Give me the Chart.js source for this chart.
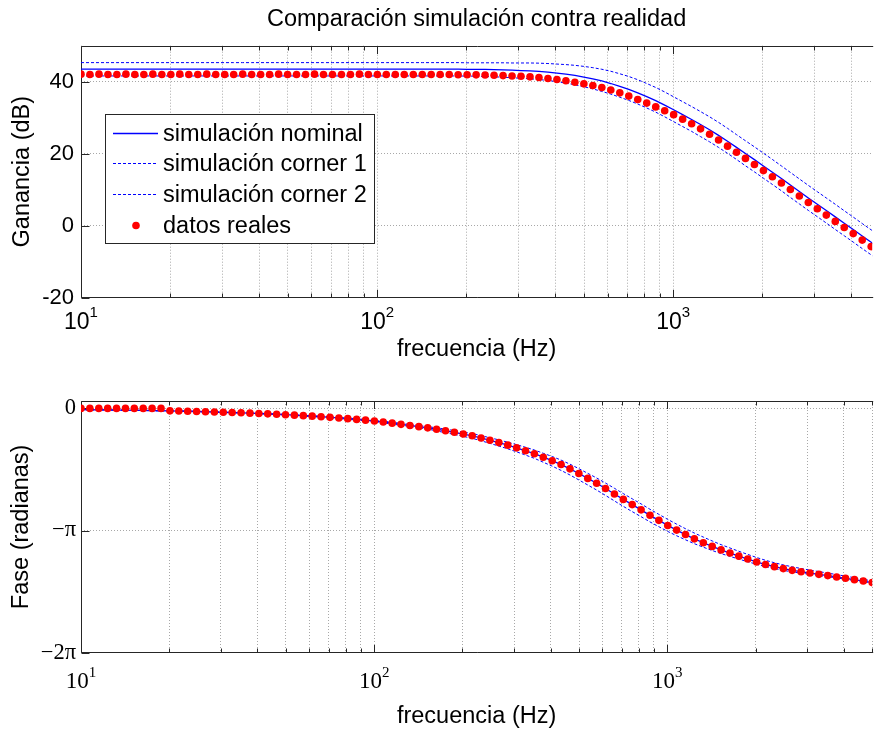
<!DOCTYPE html>
<html lang="es">
<head>
<meta charset="utf-8">
<title>Comparación simulación contra realidad</title>
<script src="https://cdn.jsdelivr.net/npm/chart.js@4.4.1/dist/chart.umd.min.js"></script>
<style>
    html, body { margin: 0; padding: 0; background: #fff; }
    .figure { position: relative; width: 876px; height: 733px; }
    .panel { position: absolute; left: 0; width: 876px; }
    #gainPanel { top: 0; height: 370px; }
    #phasePanel { top: 370px; height: 363px; }
</style>
</head>
<body>
<div class="figure">
    <div class="panel" id="gainPanel"><canvas id="gainChart"></canvas></div>
    <div class="panel" id="phasePanel"><canvas id="phaseChart"></canvas></div>
</div>
<script>
// Frequency sweep (Hz), one entry per measured point
const frequency = [
    10.00, 10.72, 11.50, 12.33, 13.22, 14.18, 15.20, 16.30, 17.48, 18.75,
    20.11, 21.56, 23.12, 24.79, 26.59, 28.51, 30.57, 32.78, 35.16, 37.70,
    40.43, 43.35, 46.49, 49.85, 53.45, 57.32, 61.47, 65.91, 70.68, 75.80,
    81.28, 87.16, 93.46, 100.2, 107.4, 115.2, 123.5, 132.5, 142.1, 152.3,
    163.3, 175.2, 187.8, 201.4, 216.0, 231.6, 248.3, 266.3, 285.6, 306.2,
    328.4, 352.1, 377.6, 404.9, 434.2, 465.6, 499.3, 535.4, 574.1, 615.6,
    660.2, 707.9, 759.1, 814.0, 872.9, 936.0, 1003.5, 1076, 1154, 1237,
    1327, 1423, 1526, 1636, 1754, 1881, 2017, 2163, 2320, 2487,
    2667, 2860, 3067, 3289, 3527, 3782, 4055, 4349, 4663, 5000
];

// Gain (dB)
const gainMeasured = [
    42.1, 42.0, 42.1, 42.0, 42.0, 42.1, 42.0, 42.0, 42.1, 42.0,
    42.0, 42.1, 42.0, 42.0, 42.1, 42.0, 42.0, 42.0, 42.1, 42.0,
    42.0, 42.0, 42.1, 42.0, 42.0, 42.0, 42.1, 42.0, 42.0, 42.0,
    42.0, 42.1, 42.0, 42.0, 42.0, 42.0, 42.0, 42.0, 42.0, 42.0,
    42.0, 42.0, 41.95, 41.95, 41.9, 41.85, 41.8, 41.7, 41.6, 41.5,
    41.35, 41.15, 40.9, 40.6, 40.25, 39.85, 39.4, 38.95, 38.4, 37.7,
    36.9, 36.0, 35.05, 34.05, 33.0, 31.95, 30.85, 29.6, 28.3, 26.9,
    25.4, 23.8, 22.1, 20.4, 18.7, 17.0, 15.3, 13.6, 11.85, 10.05,
    8.25, 6.45, 4.7, 2.95, 1.2, -0.5, -2.2, -4.0, -5.8, -7.5
];
const gainNominal = [
    43.5, 43.5, 43.5, 43.5, 43.5, 43.5, 43.5, 43.5, 43.5, 43.5,
    43.5, 43.5, 43.5, 43.5, 43.5, 43.5, 43.5, 43.5, 43.5, 43.5,
    43.5, 43.5, 43.5, 43.5, 43.5, 43.5, 43.5, 43.5, 43.5, 43.5,
    43.5, 43.5, 43.5, 43.5, 43.5, 43.5, 43.5, 43.5, 43.5, 43.5,
    43.5, 43.5, 43.5, 43.45, 43.45, 43.4, 43.35, 43.3, 43.2, 43.1,
    43.0, 42.85, 42.65, 42.4, 42.1, 41.75, 41.3, 40.8, 40.2, 39.5,
    38.7, 37.85, 36.9, 35.85, 34.75, 33.5, 32.2, 30.85, 29.5, 28.1,
    26.65, 25.1, 23.45, 21.75, 20.05, 18.35, 16.6, 14.85, 13.1, 11.3,
    9.5, 7.7, 5.95, 4.2, 2.45, 0.7, -1.05, -2.85, -4.6, -6.35
];
const gainCorner1 = [
    45.3, 45.3, 45.3, 45.3, 45.3, 45.3, 45.3, 45.3, 45.3, 45.3,
    45.3, 45.3, 45.3, 45.3, 45.3, 45.3, 45.3, 45.3, 45.3, 45.3,
    45.3, 45.3, 45.3, 45.3, 45.3, 45.3, 45.3, 45.3, 45.3, 45.3,
    45.3, 45.3, 45.3, 45.3, 45.3, 45.3, 45.3, 45.3, 45.3, 45.3,
    45.3, 45.3, 45.3, 45.25, 45.25, 45.25, 45.25, 45.25, 45.2, 45.2,
    45.2, 45.15, 45.05, 44.9, 44.75, 44.55, 44.25, 43.9, 43.45, 42.9,
    42.2, 41.45, 40.55, 39.5, 38.4, 37.15, 35.8, 34.45, 33.1, 31.7,
    30.25, 28.7, 27.05, 25.3, 23.6, 21.9, 20.15, 18.4, 16.6, 14.8,
    13.0, 11.2, 9.45, 7.7, 5.95, 4.15, 2.4, 0.6, -1.15, -2.9
];
const gainCorner2 = [
    41.6, 41.6, 41.6, 41.6, 41.6, 41.6, 41.6, 41.6, 41.6, 41.6,
    41.6, 41.6, 41.6, 41.6, 41.6, 41.6, 41.6, 41.6, 41.6, 41.6,
    41.6, 41.6, 41.6, 41.6, 41.6, 41.6, 41.6, 41.6, 41.6, 41.6,
    41.6, 41.6, 41.6, 41.6, 41.6, 41.6, 41.6, 41.6, 41.6, 41.6,
    41.6, 41.6, 41.6, 41.55, 41.55, 41.45, 41.35, 41.25, 41.1, 40.95,
    40.8, 40.6, 40.35, 40.0, 39.6, 39.15, 38.6, 38.0, 37.3, 36.55,
    35.7, 34.8, 33.8, 32.7, 31.55, 30.25, 28.9, 27.55, 26.2, 24.75,
    23.3, 21.75, 20.1, 18.4, 16.65, 14.95, 13.2, 11.45, 9.7, 7.85,
    6.05, 4.25, 2.5, 0.75, -1.05, -2.8, -4.55, -6.35, -8.1, -9.85
];

// Phase (rad)
const phaseMeasured = [
    0, 0, 0, 0, 0, 0, 0, 0, 0, 0,
    -0.063, -0.068, -0.074, -0.080, -0.086, -0.093, -0.100, -0.107, -0.114, -0.122,
    -0.131, -0.141, -0.151, -0.162, -0.174, -0.187, -0.200, -0.214, -0.230, -0.246,
    -0.264, -0.283, -0.303, -0.325, -0.350, -0.380, -0.410, -0.440, -0.470, -0.500,
    -0.535, -0.575, -0.615, -0.660, -0.705, -0.760, -0.820, -0.880, -0.945, -1.015,
    -1.090, -1.165, -1.255, -1.345, -1.445, -1.555, -1.675, -1.800, -1.925, -2.060,
    -2.200, -2.340, -2.475, -2.610, -2.750, -2.880, -3.010, -3.130, -3.245, -3.355,
    -3.455, -3.550, -3.640, -3.720, -3.800, -3.875, -3.950, -4.015, -4.070, -4.120,
    -4.165, -4.200, -4.235, -4.268, -4.300, -4.335, -4.370, -4.405, -4.440, -4.480
];
const phaseNominal = [
    -0.033, -0.035, -0.037, -0.040, -0.043, -0.046, -0.049, -0.053, -0.057, -0.061,
    -0.063, -0.068, -0.074, -0.080, -0.086, -0.093, -0.100, -0.107, -0.114, -0.122,
    -0.131, -0.141, -0.151, -0.162, -0.174, -0.187, -0.200, -0.214, -0.230, -0.246,
    -0.264, -0.283, -0.303, -0.325, -0.350, -0.380, -0.410, -0.440, -0.470, -0.500,
    -0.535, -0.575, -0.615, -0.660, -0.705, -0.760, -0.820, -0.880, -0.945, -1.015,
    -1.090, -1.165, -1.255, -1.345, -1.445, -1.555, -1.675, -1.800, -1.925, -2.060,
    -2.200, -2.340, -2.475, -2.610, -2.750, -2.880, -3.010, -3.130, -3.245, -3.355,
    -3.455, -3.550, -3.640, -3.720, -3.800, -3.875, -3.950, -4.015, -4.070, -4.120,
    -4.165, -4.200, -4.235, -4.268, -4.300, -4.335, -4.370, -4.405, -4.440, -4.480
];
const phaseCorner1 = [
    -0.031, -0.033, -0.035, -0.038, -0.040, -0.043, -0.046, -0.050, -0.054, -0.057,
    -0.059, -0.064, -0.070, -0.075, -0.081, -0.087, -0.094, -0.101, -0.107, -0.115,
    -0.123, -0.133, -0.142, -0.152, -0.164, -0.176, -0.188, -0.201, -0.216, -0.231,
    -0.248, -0.266, -0.285, -0.306, -0.329, -0.357, -0.385, -0.414, -0.442, -0.470,
    -0.500, -0.535, -0.570, -0.610, -0.650, -0.700, -0.755, -0.810, -0.870, -0.933,
    -1.000, -1.070, -1.155, -1.237, -1.330, -1.435, -1.550, -1.670, -1.790, -1.920,
    -2.055, -2.192, -2.325, -2.457, -2.595, -2.725, -2.855, -2.977, -3.095, -3.207,
    -3.310, -3.410, -3.505, -3.590, -3.675, -3.755, -3.835, -3.907, -3.970, -4.025,
    -4.075, -4.118, -4.160, -4.198, -4.235, -4.275, -4.315, -4.355, -4.395, -4.440
];
const phaseCorner2 = [
    -0.035, -0.037, -0.039, -0.042, -0.046, -0.049, -0.052, -0.056, -0.060, -0.065,
    -0.067, -0.072, -0.078, -0.085, -0.091, -0.099, -0.106, -0.113, -0.121, -0.129,
    -0.139, -0.149, -0.160, -0.172, -0.184, -0.198, -0.212, -0.227, -0.244, -0.261,
    -0.280, -0.300, -0.321, -0.345, -0.371, -0.403, -0.435, -0.466, -0.498, -0.530,
    -0.580, -0.625, -0.670, -0.720, -0.770, -0.832, -0.900, -0.968, -1.040, -1.117,
    -1.200, -1.285, -1.385, -1.485, -1.595, -1.713, -1.840, -1.970, -2.100, -2.238,
    -2.380, -2.520, -2.655, -2.785, -2.920, -3.043, -3.165, -3.275, -3.380, -3.480,
    -3.570, -3.655, -3.735, -3.805, -3.875, -3.943, -4.010, -4.070, -4.120, -4.165,
    -4.205, -4.236, -4.268, -4.298, -4.328, -4.361, -4.394, -4.427, -4.460, -4.500
];

// Axis ticks and labels
const gridFreqs = [10, 20, 30, 40, 50, 60, 70, 80, 90, 100, 200, 300, 400, 500, 600, 700, 800, 900, 1000, 2000, 3000, 4000, 5000];
const xDecades = [10, 100, 1000];
const xDecadeExponents = ['1', '2', '3'];
const gainTicks = [-20, 0, 20, 40];
const phaseTicks = [-2 * Math.PI, -Math.PI, 0];
const phaseTickLabels = ['\u22122\u03c0', '\u2212\u03c0', '0'];

const seriesLabels = ['simulación nominal', 'simulación corner 1', 'simulación corner 2', 'datos reales'];

const SANS = "'Liberation Sans', Arial, Helvetica, sans-serif";
const SERIF = "'Liberation Serif', 'Times New Roman', serif";
const GRID_COLOR = '#a8a8a8';
const AXIS_COLOR = '#262626';
const SIM_BLUE = '#0000ff';
const DATA_RED = '#ff0000';
const DASH = [3, 2];
const DOT_RADIUS = 3.8;

function toPoints(values) {
    return frequency.map((f, i) => ({ x: f, y: values[i] }));
}

// Box around the plot area plus inward tick marks
const axesFrame = {
    id: 'axesFrame',
    beforeDatasetsDraw(chart) {
        const { ctx, chartArea: a, scales: { x, y } } = chart;
        const top = Math.round(a.top) + 0.5;
        const bottom = Math.round(a.bottom) - 0.5;
        const left = Math.round(a.left) + 0.5;
        ctx.save();
        ctx.strokeStyle = AXIS_COLOR;
        ctx.lineWidth = 1;
        ctx.beginPath();
        x.ticks.forEach(t => {
            const px = Math.round(x.getPixelForValue(t.value)) + 0.5;
            const len = xDecades.includes(t.value) ? 7.5 : 4;
            ctx.moveTo(px, bottom);
            ctx.lineTo(px, bottom - len);
            ctx.moveTo(px, top);
            ctx.lineTo(px, top + len);
        });
        y.ticks.forEach(t => {
            const py = Math.round(y.getPixelForValue(t.value)) + 0.5;
            ctx.moveTo(left, py);
            ctx.lineTo(left + 8, py);
        });
        ctx.moveTo(a.right + 1, top);
        ctx.lineTo(left, top);
        ctx.lineTo(left, bottom);
        ctx.lineTo(a.right + 1, bottom);
        ctx.stroke();
        ctx.restore();
    }
};

// "10" with a raised exponent under each decade
const decadeLabels = {
    id: 'decadeLabels',
    afterDraw(chart, args, opts) {
        const { ctx, chartArea, scales: { x } } = chart;
        const baseY = chartArea.bottom + opts.offset;
        ctx.save();
        ctx.fillStyle = '#000';
        ctx.textAlign = 'left';
        ctx.textBaseline = 'alphabetic';
        xDecades.forEach((value, i) => {
            if (value < x.min || value > x.max) return;
            const exp = xDecadeExponents[i];
            ctx.font = `${opts.size}px ${opts.family}`;
            const wBase = ctx.measureText('10').width;
            ctx.font = `${opts.expSize}px ${opts.family}`;
            const wExp = ctx.measureText(exp).width;
            const left = x.getPixelForValue(value) - (wBase + wExp) / 2;
            ctx.font = `${opts.size}px ${opts.family}`;
            ctx.fillText('10', left, baseY);
            ctx.font = `${opts.expSize}px ${opts.family}`;
            ctx.fillText(exp, left + wBase, baseY - opts.rise);
        });
        ctx.restore();
    }
};

// Boxed legend inside the gain plot
const legendBox = {
    id: 'legendBox',
    afterDatasetsDraw(chart, args, opts) {
        if (!opts.show) return;
        const { ctx } = chart;
        const { left, top, width, height, firstRow, rowGap } = opts;
        const samples = [
            { kind: 'line', dash: [], width: 1.3 },
            { kind: 'line', dash: DASH, width: 1 },
            { kind: 'line', dash: DASH, width: 1 },
            { kind: 'dot' }
        ];
        ctx.save();
        ctx.fillStyle = '#fff';
        ctx.fillRect(left, top, width, height);
        ctx.strokeStyle = AXIS_COLOR;
        ctx.lineWidth = 1;
        ctx.strokeRect(left + 0.5, top + 0.5, width, height);
        ctx.font = `23.5px ${SANS}`;
        ctx.textBaseline = 'middle';
        ctx.textAlign = 'left';
        seriesLabels.forEach((label, i) => {
            const y = Math.round(top + firstRow + i * rowGap) + 0.5;
            const s = samples[i];
            if (s.kind === 'line') {
                ctx.strokeStyle = SIM_BLUE;
                ctx.lineWidth = s.width;
                ctx.setLineDash(s.dash);
                ctx.beginPath();
                ctx.moveTo(left + 8, y);
                ctx.lineTo(left + 53, y);
                ctx.stroke();
                ctx.setLineDash([]);
            } else {
                ctx.fillStyle = DATA_RED;
                ctx.beginPath();
                ctx.arc(left + 31, y, DOT_RADIUS, 0, 2 * Math.PI);
                ctx.fill();
            }
            ctx.fillStyle = '#000';
            ctx.fillText(label, left + 58, y + 1);
        });
        ctx.restore();
    }
};

function buildDatasets(nominal, corner1, corner2, measured) {
    const line = (label, values, dash, width, order) => ({
        label: label,
        data: toPoints(values),
        showLine: true,
        borderColor: SIM_BLUE,
        borderWidth: width,
        borderDash: dash,
        pointRadius: 0,
        pointHoverRadius: 0,
        fill: false,
        tension: 0,
        order: order
    });
    return [
        line(seriesLabels[0], nominal, [], 1.3, 1),
        line(seriesLabels[1], corner1, DASH, 1, 2),
        line(seriesLabels[2], corner2, DASH, 1, 3),
        {
            label: seriesLabels[3],
            data: toPoints(measured),
            showLine: false,
            backgroundColor: DATA_RED,
            borderColor: DATA_RED,
            pointRadius: DOT_RADIUS,
            pointHoverRadius: DOT_RADIUS,
            pointBorderWidth: 0,
            order: 0
        }
    ];
}

function logAxis(max, height, titlePadBottom) {
    return {
        type: 'logarithmic',
        min: 10,
        max: max,
        afterBuildTicks: s => {
            s.ticks = gridFreqs.filter(v => v >= s.min && v <= s.max).map(v => ({ value: v }));
        },
        afterFit: s => { s.height = height; },
        ticks: { display: false, autoSkip: false },
        grid: { color: GRID_COLOR, lineWidth: 1, drawTicks: false },
        border: { display: false, dash: [1, 2] },
        title: {
            display: true,
            text: 'frecuencia (Hz)',
            color: '#000',
            font: { family: SANS, size: 23.5, weight: 'normal', lineHeight: 1.2 },
            padding: { top: 0, bottom: titlePadBottom }
        }
    };
}

function initGainChart() {
    const ctx = document.getElementById('gainChart').getContext('2d');
    new Chart(ctx, {
        type: 'scatter',
        data: { datasets: buildDatasets(gainNominal, gainCorner1, gainCorner2, gainMeasured) },
        options: {
            responsive: true,
            maintainAspectRatio: false,
            animation: false,
            events: [],
            layout: { padding: { top: 0, right: 0, bottom: 0, left: 0 } },
            plugins: {
                legend: { display: false },
                tooltip: { enabled: false },
                title: {
                    display: true,
                    fullSize: false,
                    text: 'Comparación simulación contra realidad',
                    color: '#000',
                    font: { family: SANS, size: 23.5, weight: 'normal', lineHeight: 1.2 },
                    padding: { top: 5, bottom: 12.5 }
                },
                decadeLabels: { family: SANS, size: 23, expSize: 15, offset: 31, rise: 12 },
                legendBox: { show: true, left: 105, top: 114, width: 269, height: 129, firstRow: 18.5, rowGap: 30.7 }
            },
            scales: {
                x: logAxis(4700, 72.3, 6),
                y: {
                    min: -20,
                    max: 50,
                    afterBuildTicks: s => { s.ticks = gainTicks.map(v => ({ value: v })); },
                    afterFit: s => { s.width = 81; },
                    ticks: { color: '#000', font: { family: SANS, size: 22 }, padding: 7, autoSkip: false },
                    grid: { color: GRID_COLOR, lineWidth: 1, drawTicks: false },
                    border: { display: false, dash: [1, 2] },
                    title: {
                        display: true,
                        text: 'Ganancia (dB)',
                        color: '#000',
                        font: { family: SANS, size: 23.5, weight: 'normal', lineHeight: 1.2 },
                        padding: { top: 8, bottom: 0 }
                    }
                }
            }
        },
        plugins: [axesFrame, decadeLabels, legendBox]
    });
}

function initPhaseChart() {
    const ctx = document.getElementById('phaseChart').getContext('2d');
    new Chart(ctx, {
        type: 'scatter',
        data: { datasets: buildDatasets(phaseNominal, phaseCorner1, phaseCorner2, phaseMeasured) },
        options: {
            responsive: true,
            maintainAspectRatio: false,
            animation: false,
            events: [],
            layout: { padding: { top: 31, right: 0, bottom: 0, left: 0 } },
            plugins: {
                legend: { display: false },
                tooltip: { enabled: false },
                decadeLabels: { family: SERIF, size: 23, expSize: 15, offset: 35, rise: 11 },
                legendBox: { show: false }
            },
            scales: {
                x: logAxis(5000, 80.3, 2),
                y: {
                    min: -2 * Math.PI,
                    max: 0.19,
                    afterBuildTicks: s => { s.ticks = phaseTicks.map(v => ({ value: v })); },
                    afterFit: s => { s.width = 81; },
                    ticks: {
                        color: '#000',
                        font: { family: SERIF, size: 22.5 },
                        padding: 5,
                        autoSkip: false,
                        callback: (value, index) => phaseTickLabels[index]
                    },
                    grid: { color: GRID_COLOR, lineWidth: 1, drawTicks: false },
                    border: { display: false, dash: [1, 2] },
                    title: {
                        display: true,
                        text: 'Fase (radianas)',
                        color: '#000',
                        font: { family: SANS, size: 23.5, weight: 'normal', lineHeight: 1.2 },
                        padding: { top: 7, bottom: 0 }
                    }
                }
            }
        },
        plugins: [axesFrame, decadeLabels, legendBox]
    });
}

document.addEventListener('DOMContentLoaded', function() {
    initGainChart();
    initPhaseChart();
});
</script>
</body>
</html>
